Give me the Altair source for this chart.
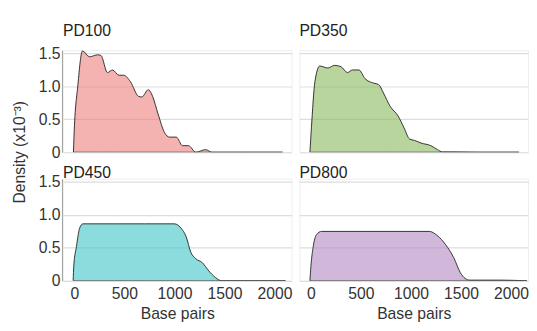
import altair as alt
import pandas as pd

panels = ["PD100", "PD350", "PD450", "PD800"]
panel_row = ["top", "top", "bottom", "bottom"]
panel_col = ["left", "right", "left", "right"]
colors = ["#ED807B", "#8AB95D", "#3CC5C6", "#B289C3"]

pd100_x = [-10, -5, 35, 80, 150, 232, 265, 330, 380, 445, 493, 560, 640, 673, 738, 781, 836, 900, 950, 1017, 1081, 1140, 1213, 1311, 1375, 1700, 2080]
pd100_y = [0, 0.22, 1.03, 1.54, 1.45, 1.48, 1.47, 1.21, 1.25, 1.17, 1.17, 1.07, 0.85, 0.84, 0.95, 0.85, 0.58, 0.30, 0.23, 0.23, 0.10, 0.10, 0.0, 0.04, 0.0, 0.0, 0.0]

pd350_x = [-10, 5, 40, 88, 170, 235, 300, 366, 415, 480, 540, 627, 676, 725, 791, 872, 931, 987, 1036, 1101, 1199, 1265, 1314, 1395, 1700, 2080]
pd350_y = [0, 0.37, 1.07, 1.31, 1.28, 1.32, 1.30, 1.21, 1.25, 1.25, 1.12, 1.05, 1.03, 0.90, 0.70, 0.55, 0.37, 0.20, 0.18, 0.14, 0.10, 0.04, 0.005, 0.005, 0.0, 0.0]

pd450_x = [-13, -7, 20, 52, 85, 400, 700, 1000, 1065, 1115, 1164, 1213, 1278, 1343, 1409, 1474, 1800, 2110]
pd450_y = [0, 0.22, 0.52, 0.80, 0.865, 0.865, 0.865, 0.865, 0.80, 0.675, 0.43, 0.335, 0.275, 0.15, 0.05, 0.0, 0.0, 0.0]

pd800_x = [-10, 0, 23, 56, 105, 500, 900, 1183, 1265, 1346, 1428, 1493, 1542, 1590, 1750, 1900, 2160]
pd800_y = [0, 0.22, 0.52, 0.70, 0.75, 0.75, 0.75, 0.75, 0.685, 0.55, 0.35, 0.125, 0.035, 0.01, 0.01, 0.01, 0.0]

x_ticks = [0, 500, 1000, 1500, 2000]
y_ticks = [0, 0.5, 1.0, 1.5]

series = {"PD100": (pd100_x, pd100_y), "PD350": (pd350_x, pd350_y),
          "PD450": (pd450_x, pd450_y), "PD800": (pd800_x, pd800_y)}
rows = []
for name, r, c in zip(panels, panel_row, panel_col):
    xs, ys = series[name]
    for xv, yv in zip(xs, ys):
        rows.append({"panel": name, "r": r, "c": c, "bp": xv, "density": yv})
df = pd.DataFrame(rows)

font = "Liberation Sans"

area = alt.Chart().mark_area(
    stroke="#333333", strokeWidth=1, fillOpacity=0.6, interpolate="monotone", clip=True
).encode(
    x=alt.X("bp:Q", title="Base pairs",
            scale=alt.Scale(domain=[-115, 2170], nice=False, zero=False),
            axis=alt.Axis(values=x_ticks, grid=False, ticks=False, domain=False,
                          format="d", labelPadding=4, titlePadding=4)),
    y=alt.Y("density:Q", title=None, stack=None,
            scale=alt.Scale(domain=[0, 1.55], nice=False),
            axis=alt.Axis(values=y_ticks, ticks=False, domainColor="#999999",
                          labelExpr="datum.value == 0 ? '0' : format(datum.value, '.1f')",
                          labelPadding=2)),
    fill=alt.Fill("panel:N", scale=alt.Scale(domain=panels, range=colors), legend=None),
)

label_top = alt.Chart().transform_filter(alt.datum.r == "top").transform_aggregate(
    groupby=["panel"]
).mark_text(
    align="left", baseline="alphabetic", fontSize=16, font=font, color="#222222"
).encode(x=alt.value(0), y=alt.value(-14), text="panel:N")

label_bottom = alt.Chart().transform_filter(alt.datum.r == "bottom").transform_aggregate(
    groupby=["panel"]
).mark_text(
    align="left", baseline="alphabetic", fontSize=16, font=font, color="#222222"
).encode(x=alt.value(0), y=alt.value(-1), text="panel:N")

chart = alt.layer(area, label_top, label_bottom, data=df).properties(
    width=233, height=104
).facet(
    row=alt.Row("r:N", sort=["top", "bottom"],
                header=alt.Header(title="Density (x10⁻³)", labels=False,
                                  titleFont=font, titleFontSize=16, titleColor="#333333",
                                  titleFontWeight="normal", titlePadding=0)),
    column=alt.Column("c:N", sort=["left", "right"], header=alt.Header(title=None, labels=False)),
    spacing={"row": 11, "column": 6},
).configure_view(
    stroke="#eeeeee"
).configure_axis(
    labelFont=font, titleFont=font, labelFontSize=16, titleFontSize=16,
    labelColor="#333333", titleColor="#333333", titleFontWeight="normal",
    gridColor="#dddddd", gridWidth=1.2,
).properties(padding={"left": 3, "top": 12, "right": 0, "bottom": 0})

chart.save("out.html", embed_options={"renderer": "svg", "actions": False})
